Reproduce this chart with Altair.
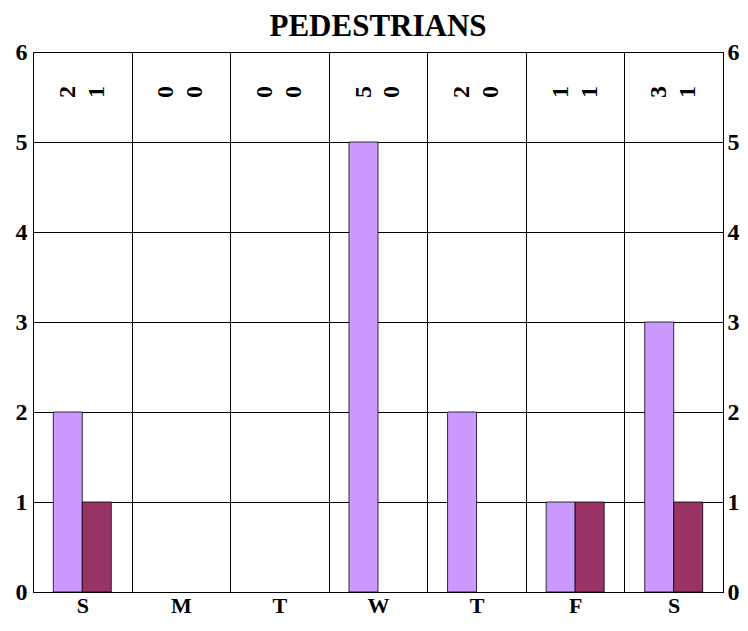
import json
import altair as alt
import pandas as pd

days = ["S", "M", "T", "W", "T", "F", "S"]
series_names = ["Series A", "Series B"]
series_a = [2, 0, 0, 5, 2, 1, 3]
series_b = [1, 0, 0, 0, 0, 1, 1]
colors = ["#CC99FF", "#993366"]

rows = []
for i, d in enumerate(days):
    rows.append({"slot": i, "day": d, "series": series_names[0], "value": series_a[i]})
    rows.append({"slot": i, "day": d, "series": series_names[1], "value": series_b[i]})
df = pd.DataFrame(rows)

FONT = "Liberation Serif"
label_expr = json.dumps(days) + "[datum.value]"

x_enc = alt.X(
    "slot:O",
    scale=alt.Scale(paddingInner=0, paddingOuter=0),
    axis=alt.Axis(
        title=None, labelExpr=label_expr, labelAngle=0, ticks=False,
        grid=True, gridColor="#000000", gridOpacity=1, gridWidth=1,
        tickBand="extent", domainColor="#000000",
        labelFont=FONT, labelFontSize=22, labelFontWeight="bold",
        labelColor="#000000", labelPadding=3,
    ),
)
xoff = alt.XOffset("series:N", sort=series_names,
                   scale=alt.Scale(paddingOuter=0.7, paddingInner=0))
color = alt.Color("series:N", sort=series_names,
                  scale=alt.Scale(domain=series_names, range=colors), legend=None)

y_scale = alt.Scale(domain=[0, 6], nice=False)

bars = alt.Chart(df).transform_filter("datum.value > 0").mark_bar(
    stroke="#000000", strokeWidth=0.8
).encode(
    x=x_enc,
    xOffset=xoff,
    y=alt.Y("value:Q", scale=y_scale,
            axis=alt.Axis(title=None, values=[0, 1, 2, 3, 4, 5, 6], ticks=False,
                          grid=True, gridColor="#000000", gridOpacity=1, gridWidth=1,
                          domainColor="#000000", labelFont=FONT, labelFontSize=24,
                          labelFontWeight="bold", labelColor="#000000", labelPadding=6)),
    color=color,
)

labels = alt.Chart(df).mark_text(
    angle=270, font=FONT, fontSize=24, fontWeight="bold", color="#000000",
    align="center", baseline="middle",
).encode(
    x=x_enc,
    xOffset=xoff,
    y=alt.value(40),
    text="value:Q",
)

right_axis = alt.Chart(df).mark_point(opacity=0).encode(
    y=alt.Y("value:Q", scale=y_scale,
            axis=alt.Axis(orient="right", title=None, values=[0, 1, 2, 3, 4, 5, 6],
                          ticks=False, grid=False, domainColor="#000000",
                          labelFont=FONT, labelFontSize=24, labelFontWeight="bold",
                          labelColor="#000000", labelPadding=4)),
)

chart = alt.layer(bars, labels, right_axis).resolve_scale(y="independent").properties(
    width=690,
    height=540,
    title=alt.TitleParams("PEDESTRIANS", font=FONT, fontSize=31, fontWeight="bold",
                          color="#000000", anchor="middle", offset=-3),
    autosize=alt.AutoSizeParams(type="none"),
    padding={"left": 25, "top": 44, "right": 17, "bottom": 31},
).configure_view(stroke="#000000", strokeWidth=1).configure(background="#ffffff")

chart.save("out.html", embed_options={"renderer": "svg", "actions": False})
